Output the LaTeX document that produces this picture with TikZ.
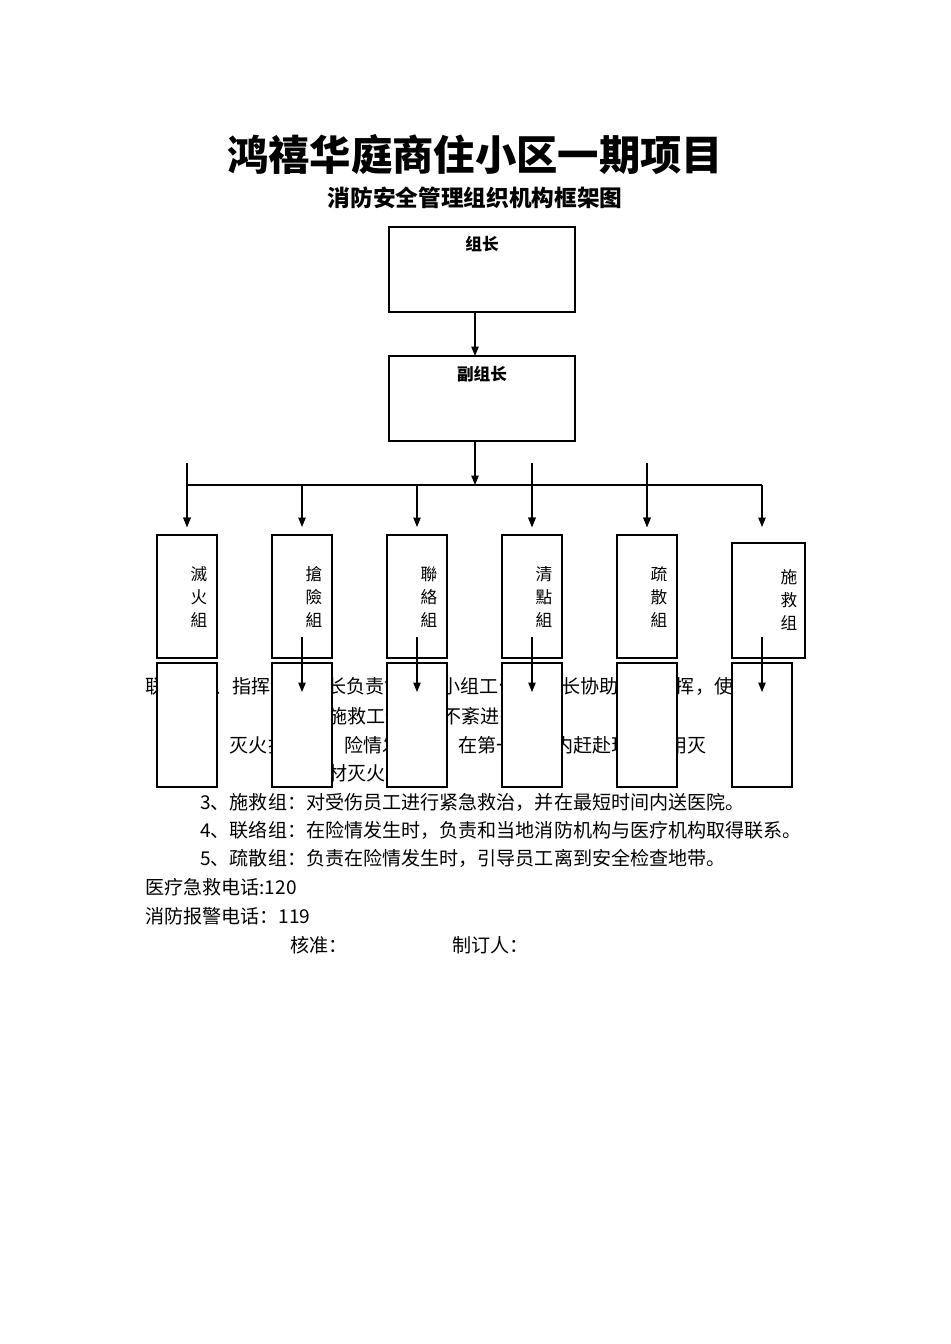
\documentclass[tikz,border=0pt]{standalone}
\usepackage{fontspec}
\newfontfamily\cjksc{Noto Sans CJK SC}
\newfontfamily\cjktc{Noto Sans CJK TC}
\usetikzlibrary{arrows.meta}
\begin{document}
\begin{tikzpicture}[x=0.75pt,y=-0.75pt,
 bx/.style={draw,line width=0.8pt,fill=white},
 arr/.style={-{Triangle[length=7pt,width=5.5pt]},line width=0.8pt},
 ln/.style={line width=0.8pt},
 body/.style={anchor=west,inner sep=0,font=\cjksc\fontsize{14.3}{16}\selectfont}]
\useasboundingbox (0,0) rectangle (950,1344);
\node[font=\cjksc\bfseries\fontsize{31}{35}\selectfont] (t1) at (475,155) {鸿禧华庭商住小区一期项目};
\node[font=\cjksc\bfseries\fontsize{17}{20}\selectfont] (t2) at (475,198) {消防安全管理组织机构框架图};
% body text
\node[body] (l1) at (145,687) {联系：1、指挥组：组长负责协调各小组工作,副队长协助实施指挥，使};
\node[body] (l2) at (290,716) {消防施救工作有条不紊进行。};
\node[body] (l3) at (200,745) {2、灭火抢险组：险情发生时，在第一时间内赶赴现场利用灭};
\node[body] (l4) at (290,773) {火器材灭火。};
\node[body] (l5) at (200,802) {3、施救组：对受伤员工进行紧急救治，并在最短时间内送医院。};
\node[body] (l6) at (200,830) {4、联络组：在险情发生时，负责和当地消防机构与医疗机构取得联系。};
\node[body] (l7) at (200,858) {5、疏散组：负责在险情发生时，引导员工离到安全检查地带。};
\node[body] (l8) at (145,887) {医疗急救电话:120};
\node[body] (l9) at (145,916) {消防报警电话：119};
\node[body] (l10) at (290,945) {核准：};
\node[body] (l11) at (452,945) {制订人：};
% top boxes
\node[bx,minimum width=186*0.75pt,minimum height=85*0.75pt,inner sep=0] (a) at (482,269.5) {};
\node[font=\cjksc\bfseries\fontsize{12.5}{14}\selectfont] (at) at (482,244) {组长};
\node[bx,minimum width=186*0.75pt,minimum height=85*0.75pt,inner sep=0] (b) at (482,398.5) {};
\node[font=\cjksc\bfseries\fontsize{12.5}{14}\selectfont] (bt) at (482,374) {副组长};
\draw[arr] (475,312) -- (475,356);
\coordinate (j) at (475,485);
\draw[arr] (475,441) -- (j);
\draw[ln] (187,485) -- (762,485);
\foreach \x in {187,302,417,532,647,762} \draw[arr] (\x,485) -- (\x,527);
\foreach \x in {187,532,647} \draw[arr] (\x,463) -- (\x,527);
% group boxes
\foreach \x/\lab in {157/滅\\火\\組,272/搶\\險\\組,387/聯\\絡\\組,502/清\\點\\組,617/疏\\散\\組}{
 \draw[bx] (\x,535) rectangle ++(60,123);
 \node[align=center,font=\cjktc\fontsize{12.5}{17.5}\selectfont] at (\x+42,597) {\lab};
}
\draw[bx] (732,543) rectangle (805,658);
\node[align=center,font=\cjktc\fontsize{12.5}{17.5}\selectfont] at (789,600) {施\\救\\组};
% lower boxes
\foreach \x in {157,272,387,502,617,732} \draw[bx] (\x,663) rectangle ++(60,124);
\foreach \x in {302,417,532,762} \draw[arr] (\x,637) -- (\x,692);
\end{tikzpicture}
\end{document}
